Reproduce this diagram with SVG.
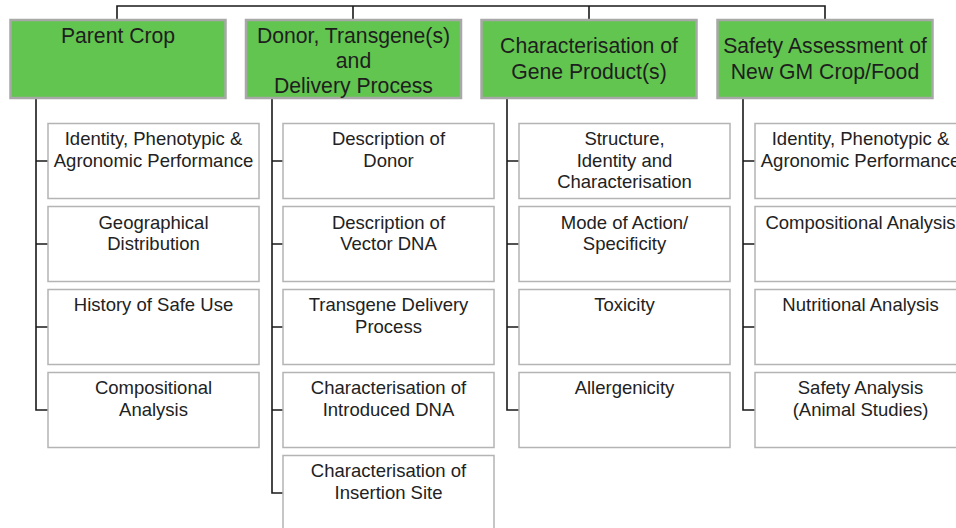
<svg xmlns="http://www.w3.org/2000/svg" width="956" height="528" viewBox="0 0 956 528">
<style>
.head{fill:#62c54f;stroke:#a8a8a8;stroke-width:2.5}
.box{fill:#ffffff;stroke:#b4b4b4;stroke-width:1.5}
.ht{font-family:"Liberation Sans",Arial,sans-serif;font-size:21.2px;fill:#1e1e1e;text-anchor:middle}
.ct{font-family:"Liberation Sans",Arial,sans-serif;font-size:18.5px;fill:#222;text-anchor:middle}
.con{fill:none;stroke:#1a1a1a;stroke-width:1.6}
</style>
<rect width="956" height="528" fill="#ffffff"/>
<g id="connectors">
<path class="con" d="M117,20 V6 H825 V20 M353,6 V20 M589,6 V20"/>
<path class="con" d="M36,98 V410 H48 M36,161 H48 M36,244 H48 M36,327 H48"/>
<path class="con" d="M272,98 V493 H283 M272,161 H283 M272,244 H283 M272,327 H283 M272,410 H283"/>
<path class="con" d="M507,98 V410 H519 M507,161 H519 M507,244 H519 M507,327 H519"/>
<path class="con" d="M743,98 V410 H755 M743,161 H755 M743,244 H755 M743,327 H755"/>
</g>
<g id="parent-crop"><rect class="head" x="10.5" y="20" width="215" height="78"/><text class="ht" x="118" y="43">Parent Crop</text></g>
<g id="donor"><rect class="head" x="246" y="20" width="215" height="78"/><text class="ht" x="353.5" y="43">Donor, Transgene(s)</text><text class="ht" x="353.5" y="68">and</text><text class="ht" x="353.5" y="93">Delivery Process</text></g>
<g id="gene-product"><rect class="head" x="481.5" y="20" width="215" height="78"/><text class="ht" x="589" y="53">Characterisation of</text><text class="ht" x="589" y="79">Gene Product(s)</text></g>
<g id="safety"><rect class="head" x="717.5" y="20" width="215" height="78"/><text class="ht" x="825" y="53">Safety Assessment of</text><text class="ht" x="825" y="79">New GM Crop/Food</text></g>

<g id="c1r1"><rect class="box" x="48" y="123.5" width="211" height="75"/><text class="ct" x="153.5" y="145">Identity, Phenotypic &amp;</text><text class="ct" x="153.5" y="166.5">Agronomic Performance</text></g>
<g id="c1r2"><rect class="box" x="48" y="206.5" width="211" height="75"/><text class="ct" x="153.5" y="228.5">Geographical</text><text class="ct" x="153.5" y="250">Distribution</text></g>
<g id="c1r3"><rect class="box" x="48" y="289.5" width="211" height="75"/><text class="ct" x="153.5" y="311">History of Safe Use</text></g>
<g id="c1r4"><rect class="box" x="48" y="372.5" width="211" height="75"/><text class="ct" x="153.5" y="394">Compositional</text><text class="ct" x="153.5" y="415.5">Analysis</text></g>

<g id="c2r1"><rect class="box" x="283" y="123.5" width="211" height="75"/><text class="ct" x="388.5" y="145">Description of</text><text class="ct" x="388.5" y="166.5">Donor</text></g>
<g id="c2r2"><rect class="box" x="283" y="206.5" width="211" height="75"/><text class="ct" x="388.5" y="228.5">Description of</text><text class="ct" x="388.5" y="250">Vector DNA</text></g>
<g id="c2r3"><rect class="box" x="283" y="289.5" width="211" height="75"/><text class="ct" x="388.5" y="311">Transgene Delivery</text><text class="ct" x="388.5" y="332.5">Process</text></g>
<g id="c2r4"><rect class="box" x="283" y="372.5" width="211" height="75"/><text class="ct" x="388.5" y="394">Characterisation of</text><text class="ct" x="388.5" y="415.5">Introduced DNA</text></g>
<g id="c2r5"><rect class="box" x="283" y="455.5" width="211" height="75"/><text class="ct" x="388.5" y="477">Characterisation of</text><text class="ct" x="388.5" y="498.5">Insertion Site</text></g>

<g id="c3r1"><rect class="box" x="519" y="123.5" width="211" height="75"/><text class="ct" x="624.5" y="145">Structure,</text><text class="ct" x="624.5" y="166.5">Identity and</text><text class="ct" x="624.5" y="188">Characterisation</text></g>
<g id="c3r2"><rect class="box" x="519" y="206.5" width="211" height="75"/><text class="ct" x="624.5" y="228.5">Mode of Action/</text><text class="ct" x="624.5" y="250">Specificity</text></g>
<g id="c3r3"><rect class="box" x="519" y="289.5" width="211" height="75"/><text class="ct" x="624.5" y="311">Toxicity</text></g>
<g id="c3r4"><rect class="box" x="519" y="372.5" width="211" height="75"/><text class="ct" x="624.5" y="394">Allergenicity</text></g>

<g id="c4r1"><rect class="box" x="755" y="123.5" width="211" height="75"/><text class="ct" x="860.5" y="145">Identity, Phenotypic &amp;</text><text class="ct" x="860.5" y="166.5">Agronomic Performance</text></g>
<g id="c4r2"><rect class="box" x="755" y="206.5" width="211" height="75"/><text class="ct" x="860.5" y="228.5">Compositional Analysis</text></g>
<g id="c4r3"><rect class="box" x="755" y="289.5" width="211" height="75"/><text class="ct" x="860.5" y="311">Nutritional Analysis</text></g>
<g id="c4r4"><rect class="box" x="755" y="372.5" width="211" height="75"/><text class="ct" x="860.5" y="394">Safety Analysis</text><text class="ct" x="860.5" y="415.5">(Animal Studies)</text></g>
</svg>
